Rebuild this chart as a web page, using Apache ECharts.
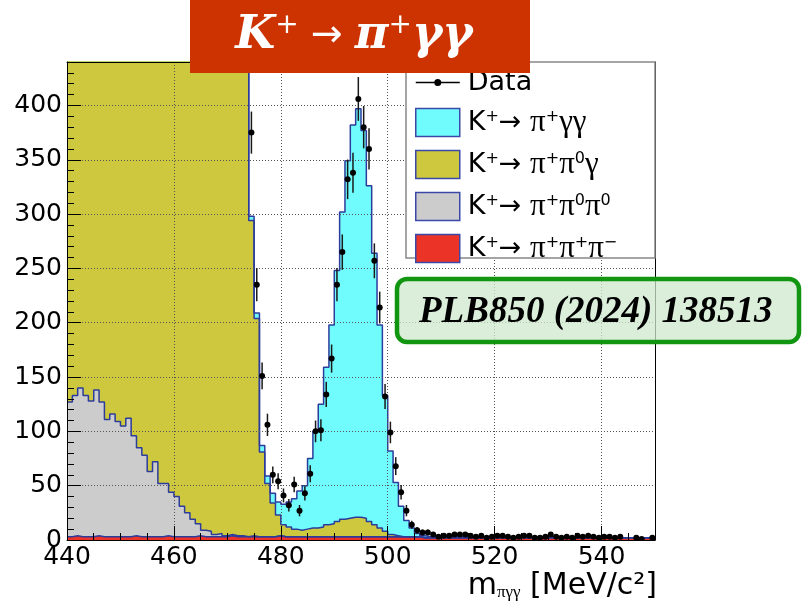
<!DOCTYPE html>
<html>
<head>
<meta charset="utf-8">
<script src="https://cdn.jsdelivr.net/npm/echarts@6/dist/echarts.min.js"></script>
<style>
html,body{margin:0;padding:0;background:#fff;}
#chart{width:802px;height:606px;}
</style>
</head>
<body>
<div id="chart"></div>
<script>
// histogram binning: 1 MeV bins, 440..550
var binLow = 440;
var binWidth = 1;

// MC templates, one value per bin (440..549)
// K+ -> pi+ pi+ pi-
var k3pi = [
	3,4,3,3,3,4,3,3,3,3, 3,3,4,3,3,3,3,3,4,3,
	3,3,3,3,4,3,3,3,3,3, 4,3,3,3,3,3,3,3,3,4,
	3,3,3,3,3,3,3,3,3,3, 3,3,3,3,3,3,3,3,3,3,
	3,3,3,3,3,3,2,2,2,2, 2,2,2,2,2,2,2,2,2,2,
	2,2,2,2,2,2,2,2,2,2, 2,2,2,2,2,2,2,2,2,2,
	2,2,2,2,2,2,2,2,2,2
];
// K+ -> pi+ pi0 pi0
var pi0pi0 = [
	124,129,137,130,125,134,124,108,113,106, 102,109,92,82,75,60,69,49,48,41,
	37,28,22,16,11,6,5,2,3,1, 1,1,1,0,1,0,0,0,0,0,
	0,0,0,0,0,0,0,0,0,0, 0,0,0,0,0,0,0,0,0,0,
	0,0,0,0,0,0,0,0,0,0, 0,0,0,0,0,0,0,0,0,0,
	0,0,0,0,0,0,0,0,0,0, 0,0,0,0,0,0,0,0,0,0,
	0,0,0,0,0,0,0,0,0,0
];
// K+ -> pi+ pi0 gamma (off scale below 474)
var pi0gamma = [
	560,575,590,600,615,630,640,655,665,680, 690,700,715,725,735,745,760,770,780,790,
	800,810,815,825,830,840,845,850,855,860, 865,860,850,830,290,201,78,49,31,19,
	11,9,7,6,7,8,8,9,11,12, 14,16,17,18,18,17,14,11,8,5,
	2,1,0,0,0,0,0,0,0,0, 0,0,0,0,0,0,0,0,0,0,
	0,0,0,0,0,0,0,0,0,0, 0,0,0,0,0,0,0,0,0,0,
	0,0,0,0,0,0,0,0,0,0
];
// K+ -> pi+ gamma gamma
var gammagamma = [
	1,1,1,1,1,1,1,1,1,1, 1,1,1,1,1,1,1,1,1,1,
	1,1,2,2,2,2,2,2,2,3, 3,3,3,3,4,5,6,7,9,12,
	19,23,28,36,40,64,89,113,145,183, 231,283,329,361,376,357,309,250,187,125,
	77,49,28,15,8,3,2,1,1,1, 1,1,1,1,1,1,1,1,1,1,
	1,1,1,1,1,1,1,1,1,1, 1,1,1,1,1,0,0,0,0,0,
	0,0,0,0,0,0,0,0,0,0
];

// data counts, bins 474..549 (lower bins are off scale)
var dataFirstBin = 474;
var dataCounts = [
	375,235,151,106,60,54,41,32,51,27,
	43,61,100,101,134,167,235,265,332,338,
	406,380,360,257,214,132,99,68,44,27,
	14,9,7,7,5,3,4,4,5,5,
	5,4,3,4,2,3,4,4,3,2,
	3,4,4,2,2,3,5,3,2,3,
	2,4,3,4,3,2,3,3,2,3,
	0,0,2,1,0,2
];

var names = ['K+ -> pi+ pi+ pi-', 'K+ -> pi+ pi0 pi0', 'K+ -> pi+ pi0 gamma', 'K+ -> pi+ gamma gamma'];
var fills = ['#ec3327', '#cccccc', '#cdc83e', '#70fcfc'];
var legendText = {
	'Data': '{f|Data}',
	'K+ -> pi+ gamma gamma': '{f|K}{s|+}{t|\u2192 }{g|\u03c0}{s|+}{g|\u03b3\u03b3}',
	'K+ -> pi+ pi0 gamma': '{f|K}{s|+}{t|\u2192 }{g|\u03c0}{s|+}{g|\u03c0}{s|0}{g|\u03b3}',
	'K+ -> pi+ pi0 pi0': '{f|K}{s|+}{t|\u2192 }{g|\u03c0}{s|+}{g|\u03c0}{s|0}{g|\u03c0}{s|0}',
	'K+ -> pi+ pi+ pi-': '{f|K}{s|+}{t|\u2192 }{g|\u03c0}{s|+}{g|\u03c0}{s|+}{g|\u03c0}{s|\u2212}'
};

var layers = [k3pi, pi0pi0, pi0gamma, gammagamma]; // bottom to top

function stepPoints(counts){
	var pts = [];
	for (var i = 0; i < counts.length; i++) {
		pts.push([binLow + i * binWidth, counts[i]]);
	}
	pts.push([binLow + counts.length * binWidth, counts[counts.length - 1]]);
	return pts;
}

// cumulative stack, drawn from the top layer down like THStack
var cumul = [];
var run = layers[0].map(function(){ return 0; });
for (var l = 0; l < layers.length; l++) {
	run = run.map(function(v, i){ return v + layers[l][i]; });
	cumul.push(run.slice());
}

var series = [];
for (var k = layers.length - 1; k >= 0; k--) {
	series.push({
		name: names[k],
		type: 'line',
		step: 'end',
		symbol: 'none',
		silent: true,
		animation: false,
		clip: true,
		data: stepPoints(cumul[k]),
		itemStyle: {color: fills[k]},
		lineStyle: {color: '#2c3c9c', width: 1.5},
		areaStyle: {color: fills[k], opacity: 1}
	});
}

var pointData = [];
for (var j = 0; j < dataCounts.length; j++) {
	if (dataCounts[j] > 0) {
		var c = dataFirstBin + j * binWidth + binWidth / 2;
		pointData.push([c, dataCounts[j], Math.sqrt(dataCounts[j])]);
	}
}

series.push({
	name: 'Data',
	type: 'custom',
	z: 15,
	clip: true,
	silent: true,
	animation: false,
	itemStyle: {color: '#000'},
	encode: {x: 0, y: 1},
	data: pointData,
	renderItem: function(params, api){
		var x = api.value(0), y = api.value(1), e = api.value(2);
		var p = api.coord([x, y]);
		var lo = api.coord([x, y - e]);
		var hi = api.coord([x, y + e]);
		return {
			type: 'group',
			children: [
				{type: 'line', shape: {x1: p[0], y1: lo[1], x2: p[0], y2: hi[1]}, style: {stroke: '#1a1a1a', lineWidth: 1.5}},
				{type: 'circle', shape: {cx: p[0], cy: p[1], r: 3}, style: {fill: '#000'}}
			]
		};
	}
});

var axisFont = 'DejaVu Sans';
var gridLine = {show: true, lineStyle: {color: '#555', width: 1, type: [1, 2]}};

function frameAxis(pos, min, max){
	return {
		type: 'value', position: pos, min: min, max: max, z: 10,
		axisLine: {show: true, onZero: false, lineStyle: {color: '#000', width: 1}},
		axisTick: {show: false}, axisLabel: {show: false}, splitLine: {show: false}
	};
}
function minorAxis(pos, min, max, step){
	return {
		type: 'value', position: pos, min: min, max: max, interval: step, z: 10,
		axisLine: {show: false, onZero: false},
		axisTick: {show: true, inside: true, length: 7, lineStyle: {color: '#000'}},
		axisLabel: {show: false}, splitLine: {show: false}
	};
}

var chart = echarts.init(document.getElementById('chart'));
chart.setOption({
	animation: false,
	backgroundColor: '#fff',
	grid: {left: 67, top: 62, width: 588, height: 478, outerBoundsMode: 'none'},
	xAxis: [
		{
			type: 'value', position: 'bottom', min: 440, max: 550, interval: 20, z: 10,
			axisLine: {show: true, onZero: false, lineStyle: {color: '#000', width: 1}},
			axisTick: {show: true, inside: true, length: 14, lineStyle: {color: '#000'}},
			axisLabel: {fontFamily: axisFont, fontSize: 25, color: '#000', margin: 5, showMaxLabel: false},
			splitLine: gridLine
		},
		minorAxis('bottom', 440, 550, 5),
		frameAxis('top', 440, 550)
	],
	yAxis: [
		{
			type: 'value', position: 'left', min: 0, max: 440, interval: 50, z: 10,
			axisLine: {show: true, onZero: false, lineStyle: {color: '#000', width: 1}},
			axisTick: {show: true, inside: true, length: 14, lineStyle: {color: '#000'}},
			axisLabel: {fontFamily: axisFont, fontSize: 25, color: '#000', margin: 5, showMaxLabel: false},
			splitLine: gridLine
		},
		minorAxis('left', 0, 440, 10),
		frameAxis('right', 0, 440)
	],
	legend: {
		orient: 'vertical',
		left: 415,
		top: 69,
		padding: 0,
		itemWidth: 44,
		itemHeight: 28,
		itemGap: 11,
		z: 20,
		selectedMode: false,
		itemStyle: {borderColor: '#3a48a8', borderWidth: 1.5},
		data: [
			{name: 'Data', icon: 'path://M0,13.25h44v1.5h-44z M22,10.5a3.5,3.5 0 1,1 0,7a3.5,3.5 0 1,1 0,-7z', itemStyle: {borderWidth: 0}},
			{name: names[3], icon: 'rect'},
			{name: names[2], icon: 'rect'},
			{name: names[1], icon: 'rect'},
			{name: names[0], icon: 'rect'}
		],
		formatter: function(name){ return legendText[name] || name; },
		textStyle: {
			color: '#000',
			rich: {
				f: {fontFamily: 'DejaVu Sans', fontSize: 27, lineHeight: 28, color: '#000', padding: [0, 0, 0, 3]},
				t: {fontFamily: 'DejaVu Sans', fontSize: 27, lineHeight: 28, color: '#000'},
				g: {fontFamily: 'Liberation Serif', fontSize: 31, lineHeight: 28, color: '#000'},
				s: {fontFamily: 'DejaVu Sans', fontSize: 16, lineHeight: 12, verticalAlign: 'top', color: '#000'}
			}
		}
	},
	graphic: [
		// legend frame
		{type: 'rect', z: 15, silent: true, shape: {x: 406, y: 62, width: 249, height: 196},
			style: {fill: '#fff', stroke: '#888', lineWidth: 1.5}},
		// axis title
		{type: 'text', z: 15, silent: true, x: 657, y: 601,
			style: {
				text: '{m|m}{sub|\u03c0\u03b3\u03b3}{m| [MeV/c\u00b2]}',
				align: 'right', verticalAlign: 'bottom',
				rich: {
					m: {fontFamily: 'DejaVu Sans', fontSize: 30, lineHeight: 30, fill: '#000'},
					sub: {fontFamily: 'Liberation Serif', fontSize: 17, lineHeight: 30, padding: [14, 0, 0, 0], verticalAlign: 'bottom', fill: '#000'}
				}
			}},
		// reference box
		{type: 'rect', z: 30, silent: true, shape: {x: 397, y: 279, width: 402, height: 63, r: 10},
			style: {fill: 'rgba(205,232,205,0.75)', stroke: '#129612', lineWidth: 4.5}},
		{type: 'text', z: 31, silent: true, x: 419, y: 312,
			style: {text: 'PLB850 (2024) 138513', fontFamily: 'Liberation Serif', fontStyle: 'italic', fontWeight: 'bold',
				fontSize: 37, fill: '#000', align: 'left', verticalAlign: 'middle'}},
		// title box
		{type: 'rect', z: 40, silent: true, shape: {x: 190, y: 0, width: 340, height: 73},
			style: {fill: '#cc3300'}},
		{type: 'text', z: 41, silent: true, x: 354, y: 36,
			style: {
				text: '{k|K}{s|+}{a| \u2192 }{k|\u03c0}{s|+}{k|\u03b3\u03b3}',
				align: 'center', verticalAlign: 'middle',
				rich: {
					k: {fontFamily: 'DejaVu Serif', fontStyle: 'italic', fontWeight: 'bold', fontSize: 46, lineHeight: 48, fill: '#fff'},
					a: {fontFamily: 'DejaVu Sans', fontSize: 38, lineHeight: 48, fill: '#fff'},
					s: {fontFamily: 'DejaVu Serif', fontSize: 28, lineHeight: 22, verticalAlign: 'top', fill: '#fff'}
				}
			}}
	],
	series: series
});
</script>
</body>
</html>
